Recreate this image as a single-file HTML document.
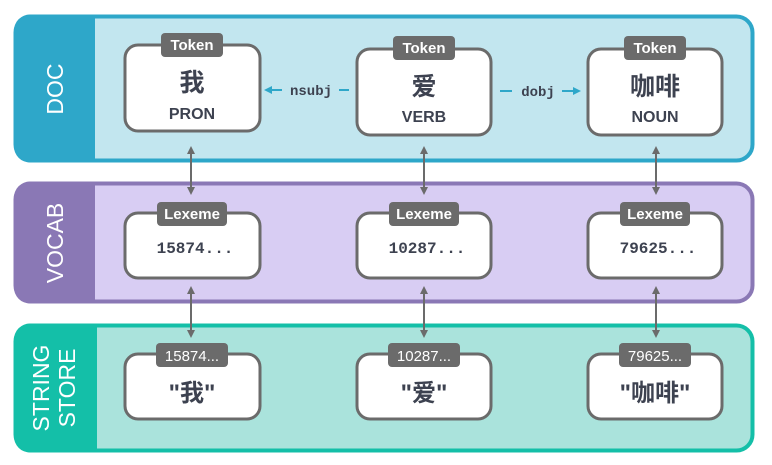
<!DOCTYPE html>
<html><head><meta charset="utf-8"><style>
html,body{margin:0;padding:0;background:#fff;width:772px;height:465px;overflow:hidden}
svg{display:block}
.t{font-family:"Liberation Sans","Noto Sans CJK SC",sans-serif;font-weight:bold}
.n{font-family:"Liberation Sans","Noto Sans CJK SC",sans-serif;font-weight:normal}
.m{font-family:"Liberation Mono","DejaVu Sans Mono",monospace;font-weight:bold}
</style></head><body>
<svg width="772" height="465" viewBox="0 0 772 465">
<defs>
<marker id="ag" markerWidth="8" markerHeight="8" refX="6" refY="4" orient="auto-start-reverse" markerUnits="userSpaceOnUse"><path d="M0,0 L8,4 L0,8 z" fill="#6b6b6b"/></marker>
<marker id="ab" markerWidth="8" markerHeight="8" refX="6" refY="4" orient="auto" markerUnits="userSpaceOnUse"><path d="M0,0 L8,4 L0,8 z" fill="#2ea7c9"/></marker>
</defs>
<!-- DOC -->
<rect x="15.5" y="16.5" width="737" height="144" rx="16" fill="#c2e6ef" stroke="#2ea7c9" stroke-width="4"/>
<path d="M30,14.5 H95 V162.5 H30 A16,16 0 0 1 14,146.5 V30.5 A16,16 0 0 1 30,14.5z" fill="#2ea7c9"/>
<text class="n" x="0" y="0" transform="translate(63,89) rotate(-90)" text-anchor="middle" font-size="23" fill="#fff">DOC</text>
<!-- VOCAB -->
<rect x="15.5" y="183.5" width="737" height="118" rx="16" fill="#d8cdf3" stroke="#8a78b5" stroke-width="4"/>
<path d="M30,181.5 H95 V303.5 H30 A16,16 0 0 1 14,287.5 V197.5 A16,16 0 0 1 30,181.5z" fill="#8a78b5"/>
<text class="n" x="0" y="0" transform="translate(63,243) rotate(-90)" text-anchor="middle" font-size="23" fill="#fff">VOCAB</text>
<!-- STRING STORE -->
<rect x="15.5" y="325.5" width="737" height="125" rx="16" fill="#aae3dc" stroke="#14bfa8" stroke-width="4"/>
<path d="M30,323.5 H97 V452.5 H30 A16,16 0 0 1 14,436.5 V339.5 A16,16 0 0 1 30,323.5z" fill="#14bfa8"/>
<text class="n" x="0" y="0" transform="translate(49,388) rotate(-90)" text-anchor="middle" font-size="23" fill="#fff">STRING</text>
<text class="n" x="0" y="0" transform="translate(75,388) rotate(-90)" text-anchor="middle" font-size="23" fill="#fff">STORE</text>

<!-- vertical arrows -->
<g stroke="#6b6b6b" stroke-width="2" fill="none">
<line x1="191" y1="148" x2="191" y2="193" marker-start="url(#ag)" marker-end="url(#ag)"/>
<line x1="424" y1="148" x2="424" y2="193" marker-start="url(#ag)" marker-end="url(#ag)"/>
<line x1="656" y1="148" x2="656" y2="193" marker-start="url(#ag)" marker-end="url(#ag)"/>
<line x1="191" y1="288" x2="191" y2="336" marker-start="url(#ag)" marker-end="url(#ag)"/>
<line x1="424" y1="288" x2="424" y2="336" marker-start="url(#ag)" marker-end="url(#ag)"/>
<line x1="656" y1="288" x2="656" y2="336" marker-start="url(#ag)" marker-end="url(#ag)"/>
</g>
<!-- dep arrows -->
<g stroke="#2ea7c9" stroke-width="2">
<line x1="282" y1="90" x2="266" y2="90" marker-end="url(#ab)"/>
<line x1="339" y1="90" x2="349" y2="90"/>
<line x1="500" y1="91" x2="512" y2="91"/>
<line x1="562" y1="91" x2="579" y2="91" marker-end="url(#ab)"/>
</g>
<text class="m" x="311" y="95" text-anchor="middle" font-size="14" fill="#3d4250">nsubj</text>
<text class="m" x="538" y="96" text-anchor="middle" font-size="14" fill="#3d4250">dobj</text>

<g stroke="#6b6b6b" stroke-width="3" fill="#fff">
<rect x="125" y="45" width="135" height="86" rx="13"/>
<rect x="357" y="49" width="134" height="86" rx="13"/>
<rect x="588" y="49" width="134" height="86" rx="13"/>
<rect x="125" y="213" width="135" height="65" rx="13"/>
<rect x="357" y="213" width="134" height="65" rx="13"/>
<rect x="588" y="213" width="134" height="65" rx="13"/>
<rect x="125" y="354" width="135" height="65" rx="13"/>
<rect x="357" y="354" width="134" height="65" rx="13"/>
<rect x="588" y="354" width="134" height="65" rx="13"/>
</g>
<g fill="#6b6b6b">
<rect x="161" y="33" width="62" height="24" rx="4"/>
<rect x="393" y="36" width="62" height="24" rx="4"/>
<rect x="624" y="36" width="62" height="24" rx="4"/>
<rect x="157" y="202" width="70" height="24" rx="4"/>
<rect x="389" y="202" width="70" height="24" rx="4"/>
<rect x="620" y="202" width="70" height="24" rx="4"/>
<rect x="156" y="343" width="72" height="24" rx="4"/>
<rect x="388" y="343" width="72" height="24" rx="4"/>
<rect x="619" y="343" width="72" height="24" rx="4"/>
</g>
<g class="t" fill="#fff" font-size="15" text-anchor="middle">
<text x="192" y="50">Token</text><text x="424" y="53">Token</text><text x="655" y="53">Token</text>
<text x="192" y="219">Lexeme</text><text x="424" y="219">Lexeme</text><text x="655" y="219">Lexeme</text>
</g>
<g class="n" fill="#fff" font-size="15" text-anchor="middle">
<text x="192" y="361">15874...</text><text x="424" y="361">10287...</text><text x="655" y="361">79625...</text>
</g>
<g class="t" fill="#3d4250" text-anchor="middle">
<text x="192" y="91" font-size="25">我</text><text x="424" y="95" font-size="25">爱</text><text x="655" y="95" font-size="25">咖啡</text>
<text x="192" y="119" font-size="16">PRON</text><text x="424" y="122" font-size="16">VERB</text><text x="655" y="122" font-size="16">NOUN</text>
<text x="192" y="401" font-size="24">"我"</text><text x="424" y="401" font-size="24">"爱"</text><text x="655" y="401" font-size="24">"咖啡"</text>
</g>
<g class="m" fill="#3d4250" text-anchor="middle" font-size="16">
<text x="195" y="253">15874...</text><text x="427" y="253">10287...</text><text x="658" y="253">79625...</text>
</g>
</svg>
</body></html>
